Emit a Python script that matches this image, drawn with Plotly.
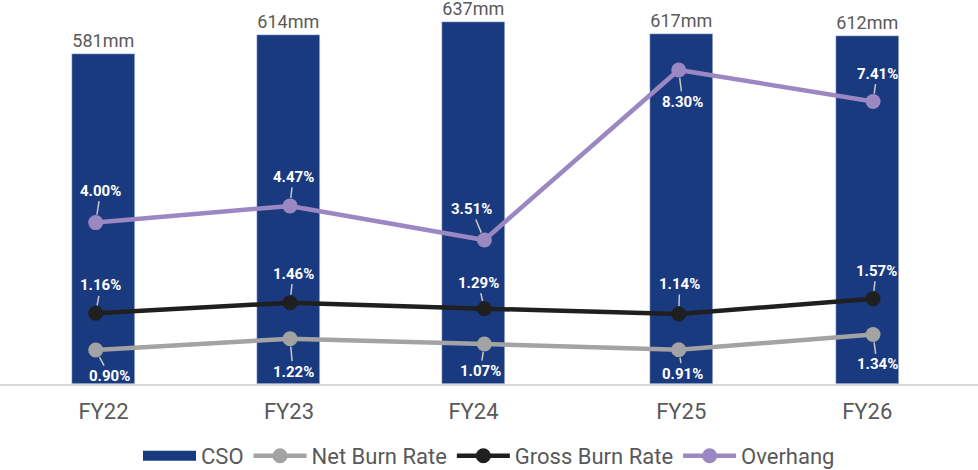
import plotly.graph_objects as go

# ---- data ----
years = ["FY22", "FY23", "FY24", "FY25", "FY26"]
cso_mm = [581, 614, 637, 617, 612]
net_burn = [0.90, 1.22, 1.07, 0.91, 1.34]
gross_burn = [1.16, 1.46, 1.29, 1.14, 1.57]
overhang = [4.00, 4.47, 3.51, 8.30, 7.41]

# ---- style / layout ----
BAR = "#1a3a80"
NET = "#a3a3a3"
GROSS = "#1f1f1f"
OVER = "#9b88c2"
TXT = "#595959"
FONT = "Roboto"

# horizontal slot position of each bar group (the original spaces them unevenly)
bar_pos = [0.0, 0.9715, 1.9377, 3.0259, 4.0]

# label offsets (pixels) from point to label centre
net_off = [(14, 26), (3, 33), (-4, 27), (4, 24), (4, 30)]
gross_off = [(5, -28), (3, -29), (-6, -26), (1, -30), (3, -28)]
over_off = [(5, -32), (3, -29), (-13, -31), (4, 32), (4, -28)]

PLOT_TOP = 3       # px
PLOT_BOTTOM = 384  # px
PLOT_H = PLOT_BOTTOM - PLOT_TOP
BAR_SCALE = 0.568  # px per mm
SCALE = 35.5       # px per percent

fig = go.Figure()
fig.add_trace(go.Bar(
    x=bar_pos, y=cso_mm, name="CSO", marker_color=BAR, width=0.33,
    text=[f"{v}mm" for v in cso_mm], textposition="outside", cliponaxis=False,
    textfont=dict(size=18, color=TXT, family=FONT),
    xaxis="x", yaxis="y", showlegend=False,
))
# legend swatch for the bars (wide flat rectangle like the original)
fig.add_trace(go.Scatter(
    x=[None], y=[None], name="CSO", mode="lines",
    line=dict(color=BAR, width=10), xaxis="x2", yaxis="y2",
))

line_specs = [
    ("Net Burn Rate", net_burn, NET, "y2", net_off),
    ("Gross Burn Rate", gross_burn, GROSS, "y3", gross_off),
    ("Overhang", overhang, OVER, "y4", over_off),
]
annotations = []
for name, vals, col, yax, offs in line_specs:
    fig.add_trace(go.Scatter(
        x=years, y=vals, name=name, mode="lines+markers",
        line=dict(color=col, width=4.5),
        marker=dict(color=col, size=15),
        xaxis="x2", yaxis=yax, cliponaxis=False,
    ))
    for xi, v, (ax, ay) in zip(years, vals, offs):
        annotations.append(dict(
            x=xi, y=v, xref="x2", yref=yax,
            text=f"<b>{v:.2f}%</b>", showarrow=True, arrowhead=0,
            arrowwidth=1.5, arrowcolor="#c8c8c8", ax=ax, ay=ay,
            standoff=8, font=dict(size=15, color="white", family=FONT),
        ))

def rng(zero_px):
    lo = -(PLOT_BOTTOM - zero_px) / SCALE
    return [lo, lo + PLOT_H / SCALE]

fig.update_layout(
    width=978, height=470,
    margin=dict(l=0, r=0, t=PLOT_TOP, b=470 - PLOT_BOTTOM),
    paper_bgcolor="white", plot_bgcolor="white",
    font=dict(family=FONT, color=TXT),
    showlegend=True,
    legend=dict(orientation="h", x=0.5, xanchor="center",
                xref="container", yref="container", y=14 / 470, yanchor="middle",
                itemwidth=53,
                font=dict(size=22, color=TXT, family=FONT)),
    xaxis=dict(type="linear", range=[-0.542, 4.58], showgrid=False, zeroline=False,
               showline=True, linecolor="#d9d9d9", linewidth=2,
               tickmode="array", tickvals=bar_pos, ticktext=years,
               tickfont=dict(size=22, color=TXT, family=FONT),
               ticks="", ticklabelstandoff=7),
    xaxis2=dict(type="category", overlaying="x", range=[-0.4925, 4.54], visible=False),
    yaxis=dict(range=[0, PLOT_H / BAR_SCALE], visible=False),
    yaxis2=dict(overlaying="y", range=rng(382), visible=False),
    yaxis3=dict(overlaying="y", range=rng(354.5), visible=False),
    yaxis4=dict(overlaying="y", range=rng(364.6), visible=False),
    annotations=annotations,
    bargap=0,
)

fig.write_html("out.html", config={"displayModeBar": False},
               post_script="document.body.style.margin='0';")
